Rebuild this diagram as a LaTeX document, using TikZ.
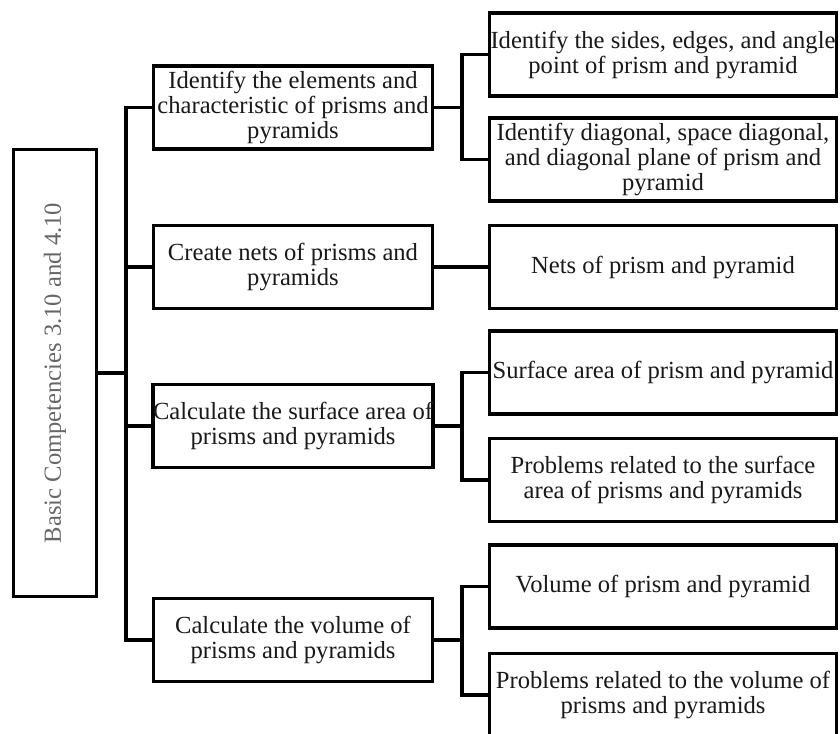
\documentclass[tikz,border=0pt]{standalone}
\usepackage{fontspec}
\setmainfont{Liberation Serif}
\begin{document}
\begin{tikzpicture}[x=1pt,y=-1pt,
  box/.style={draw=black,line width=3.5pt,fill=white,inner sep=0pt,align=center,
    font=\fontsize{24.6}{25}\selectfont,text=black!90},
  mid/.style={box,minimum width=279pt,minimum height=83pt},
  leaf/.style={box,minimum width=347pt,minimum height=83pt},
  conn/.style={line width=3.5pt,line join=miter,line cap=rect}]
\useasboundingbox (0,0) rectangle (840,733);
\clip (0,0) rectangle (840,733);
\fill[white] (0,0) rectangle (840,733);
% root
\node[box,minimum width=83pt,minimum height=447pt] (root) at (55,373) {};
\node[rotate=90,font=\fontsize{24.6}{25}\selectfont,text=black!60,inner sep=0pt] (roottext) at (root.center) {Basic Competencies 3.10 and 4.10};
% middle level
\node[mid] (m1) at (293,107.5) {Identify the elements and\\characteristic of prisms and\\pyramids};
\node[mid] (m2) at (293,267) {Create nets of prisms and\\pyramids};
\node[mid] (m3) at (293,426) {Calculate the surface area of\\prisms and pyramids};
\node[mid] (m4) at (293,640) {Calculate the volume of\\prisms and pyramids};
% leaves
\node[leaf] (r1) at (663,54.5) {Identify the sides, edges, and angle\\point of prism and pyramid};
\node[leaf] (r2) at (663,159.5) {Identify diagonal, space diagonal,\\and diagonal plane of prism and\\pyramid};
\node[leaf] (r3) at (663,267) {Nets of prism and pyramid};
\node[leaf] (r4) at (663,372.5) {Surface area of prism and pyramid};
\node[leaf] (r5) at (663,480) {Problems related to the surface\\area of prisms and pyramids};
\node[leaf] (r6) at (663,586.5) {Volume of prism and pyramid};
\node[leaf] (r7) at (663,695) {Problems related to the volume of\\prisms and pyramids};
% connector columns
\coordinate (t) at (126,0);
\coordinate (s) at (462,0);
% trunk
\draw[conn] (root.east) -- (root.east -| t);
\draw[conn] (m1.west) -- (m1.west -| t) -- (m4.west -| t) -- (m4.west);
\draw[conn] (m2.west) -- (m2.west -| t);
\draw[conn] (m3.west) -- (m3.west -| t);
% branches
\draw[conn] (m1.east) -- (m1.east -| s);
\draw[conn] (r1.west) -- (r1.west -| s) -- (r2.west -| s) -- (r2.west);
\draw[conn] (m2.east) -- (r3.west);
\draw[conn] (m3.east) -- (m3.east -| s);
\draw[conn] (r4.west) -- (r4.west -| s) -- (r5.west -| s) -- (r5.west);
\draw[conn] (m4.east) -- (m4.east -| s);
\draw[conn] (r6.west) -- (r6.west -| s) -- (r7.west -| s) -- (r7.west);
\end{tikzpicture}
\end{document}
